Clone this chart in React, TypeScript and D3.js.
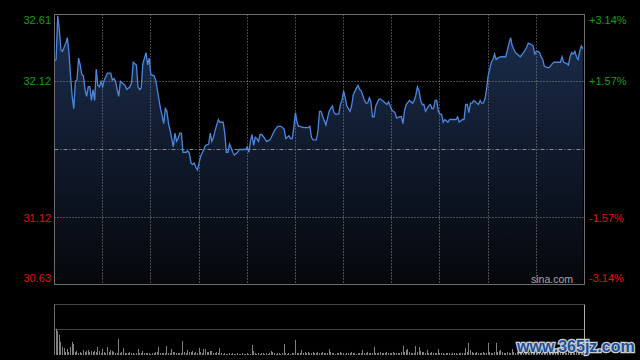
import React from 'react';
import * as d3 from 'd3';

// intraday minutes since open (330 min session) and last price
const minutes = [0,1,2,3,4,5,7,8,9,10,11,12,13,14,15,16,17,18,19,20,21,22,23,24,25,26,27,28,29,30,31,33,35,36,37,38,39,40,41,42,44,45,47,48,49,51,52,53,54,55,56,57,58,59,60,62,63,64,66,67,68,69,70,71,72,73,74,75,76,77,78,79,80,82,83,84,85,86,87,88,89,90,91,93,94,96,97,98,99,100,102,103,105,106,107,108,109,111,112,114,115,117,119,120,121,122,123,124,125,126,127,128,129,131,132,134,135,137,139,141,143,144,146,147,148,149,150,151,152,153,155,156,158,159,160,161,163,164,165,166,167,169,170,171,173,174,175,177,178,179,180,181,182,184,185,186,188,189,190,191,193,194,195,196,197,198,199,200,202,203,205,207,208,209,210,212,213,215,216,217,218,219,221,223,224,225,226,227,228,229,230,231,233,234,235,236,237,238,239,240,241,242,243,245,246,248,250,251,252,254,255,256,257,258,259,260,261,263,264,265,266,267,268,269,270,271,272,273,274,275,276,278,281,282,283,284,285,287,288,290,292,293,294,295,297,298,299,300,301,302,303,304,305,307,308,310,311,313,315,316,317,319,320,321,322,323,324,325,326,327,328,329];
const prices = [32.27,32.28,32.60,32.50,32.35,32.34,32.40,32.44,32.33,32.16,32.01,31.92,32.12,32.13,32.29,32.24,32.17,32.16,32.06,32.01,32.08,32.08,31.98,32.06,31.98,32.21,32.09,32.08,32.12,32.08,32.13,32.18,32.18,32.13,32.14,32.12,32.06,32.01,32.12,32.11,32.09,32.06,32.08,32.11,32.26,32.24,32.08,32.06,32.07,32.25,32.29,32.33,32.24,32.29,32.17,32.16,32.13,32.06,31.92,31.87,31.81,31.92,31.90,31.81,31.76,31.70,31.64,31.74,31.68,31.70,31.74,31.74,31.60,31.60,31.61,31.59,31.52,31.51,31.52,31.49,31.47,31.52,31.57,31.62,31.65,31.66,31.74,31.68,31.71,31.76,31.84,31.82,31.82,31.74,31.60,31.60,31.66,31.60,31.58,31.60,31.62,31.62,31.62,31.64,31.60,31.68,31.73,31.65,31.71,31.70,31.68,31.73,31.73,31.70,31.68,31.69,31.71,31.76,31.79,31.79,31.77,31.70,31.72,31.70,31.70,31.78,31.89,31.82,31.79,31.79,31.78,31.78,31.78,31.79,31.71,31.69,31.69,31.75,31.90,31.90,31.86,31.80,31.85,31.90,31.94,31.89,31.88,31.88,31.95,31.98,32.05,32.00,31.94,31.90,31.94,32.02,32.07,32.09,32.06,32.05,31.98,31.96,31.96,32.00,31.97,31.86,31.86,31.94,31.99,31.99,31.97,31.95,31.97,31.94,31.91,31.89,31.85,31.86,31.86,31.81,31.91,31.95,31.98,31.96,31.98,32.02,32.08,32.05,31.98,31.95,31.95,31.90,31.94,31.95,31.92,31.92,31.98,31.98,31.90,31.88,31.88,31.82,31.84,31.82,31.84,31.84,31.84,31.86,31.82,31.84,31.84,31.95,31.95,31.89,31.96,31.96,31.98,31.96,31.95,31.98,31.96,31.96,31.99,32.06,32.16,32.21,32.26,32.28,32.32,32.28,32.29,32.30,32.30,32.35,32.40,32.44,32.38,32.33,32.32,32.30,32.33,32.35,32.37,32.40,32.39,32.38,32.32,32.34,32.34,32.33,32.30,32.28,32.23,32.22,32.22,32.25,32.26,32.26,32.26,32.30,32.26,32.25,32.24,32.30,32.33,32.32,32.34,32.30,32.28,32.34,32.38,32.36];

// volume per minute (relative units)
const volumes = [
  22,26,24,20,13,8,7,3,6,3,8,13,11,3,4,2,3,2,5,3,4,5,3,4,3,4,3,8,4,2,
  6,3,2,8,3,5,4,3,2,2,16,2,3,7,2,2,2,3,2,2,1,2,6,2,2,4,2,2,2,2,
  1,2,2,3,3,8,2,2,2,2,9,2,2,6,3,3,2,2,2,2,14,3,2,5,3,3,4,2,3,2,
  7,3,2,6,6,3,3,4,4,2,2,3,2,7,2,1,2,1,1,2,1,2,1,1,2,1,1,2,1,1,
  2,1,1,10,4,2,1,2,1,2,2,1,2,1,2,4,3,2,1,2,2,1,2,11,2,1,2,1,2,2,
  15,2,2,2,5,2,3,2,3,2,2,3,2,2,3,2,2,3,2,2,2,6,3,2,2,1,2,2,3,2,
  2,1,2,2,2,3,2,2,1,2,2,2,5,2,2,3,2,2,2,8,2,2,2,3,2,2,2,3,2,2,
  2,3,2,2,2,2,3,9,3,5,6,3,2,2,2,9,3,8,4,3,3,2,5,2,2,3,2,2,2,6,
  2,2,2,1,2,2,2,1,2,2,2,1,2,2,2,2,7,3,12,5,3,2,2,3,2,2,2,3,2,2,
  12,3,2,2,3,12,3,4,5,3,2,2,3,2,2,6,3,2,3,2,2,3,2,2,3,2,3,2,2,3,
  2,3,2,2,3,2,3,2,2,3,6,3,2,3,5,3,2,3,2,2,3,2,2,3,2,3,2,2,3,2,
];

const prevClose = 31.62;
const leftLabels = ['32.61', '32.12', '31.12', '30.63'];
const rightLabels = ['+3.14%', '+1.57%', '-1.57%', '-3.14%'];
const labelPrices = [32.61, 32.12, 31.12, 30.63];
const timeTicks = [30, 60, 90, 120, 150, 180, 210, 240, 270, 300];

const App = () => {
  const width = 640;
  const height = 360;
  const left = 54.5;
  const right = 584.5;
  const top = 14.5;
  const bottom = 284.5;
  const volTop = 304.5;
  const volBottom = 355;

  const x = d3.scaleLinear([0, 330], [left, right]);
  const y = d3.scaleLinear([30.63, 32.61], [bottom, top]);
  const yv = d3.scaleLinear([0, 50], [volBottom, volTop]);

  const data = minutes.map((m, i) => ({ m, p: prices[i] }));

  const line = d3.line<any>().x(d => x(d.m)).y(d => y(d.p));
  const area = d3.area<any>().x(d => x(d.m)).y0(bottom).y1(d => y(d.p));

  const snap = (v: number) => Math.floor(v) + 0.5;
  const font = 'Arial, "Liberation Sans", sans-serif';

  return (
    <svg width={width} height={height} style={{ position: 'absolute', left: 0, top: 0, background: '#000' }}>
      <defs>
        <linearGradient id="fillGrad" gradientUnits="userSpaceOnUse" x1="0" y1={top} x2="0" y2={bottom}>
          <stop offset="0" stopColor="#1c2e4f" />
          <stop offset="1" stopColor="#05070b" />
        </linearGradient>
      </defs>
      <rect width={width} height={height} fill="#000" />

      <path d={area(data) as string} fill="url(#fillGrad)" />

      {/* grid */}
      {timeTicks.map(t => (
        <line key={t} x1={snap(x(t))} x2={snap(x(t))} y1={top} y2={bottom}
          stroke="#8a8a8a" strokeDasharray="1,2" />
      ))}
      {[32.12, 31.12].map(v => (
        <line key={v} x1={left} x2={right} y1={snap(y(v))} y2={snap(y(v))}
          stroke="#8a8a8a" strokeDasharray="1,2" />
      ))}
      <line x1={left} x2={right} y1={snap(y(prevClose))} y2={snap(y(prevClose))}
        stroke="#8a8a8a" strokeDasharray="4,2,1,2" />

      <path d={line(data) as string} fill="none" stroke="#4a88e0" strokeWidth={1.3} />

      <rect x={left} y={top} width={right - left} height={bottom - top} fill="none" stroke="#6e6e6e" />

      {leftLabels.map((l, i) => {
        const yy = i === 0 ? y(labelPrices[i]) + 6 : i === 3 ? y(labelPrices[i]) - 6 : y(labelPrices[i]);
        return (
          <text key={l} x={51} y={yy} dy="0.35em" textAnchor="end" fontFamily={font} fontSize={11}
            fill={i < 2 ? '#14a014' : '#e01010'}>{l}</text>
        );
      })}
      {rightLabels.map((l, i) => {
        const yy = i === 0 ? y(labelPrices[i]) + 6 : i === 3 ? y(labelPrices[i]) - 6 : y(labelPrices[i]);
        return (
          <text key={l} x={589} y={yy} dy="0.35em" textAnchor="start" fontFamily={font} fontSize={11}
            fill={i < 2 ? '#14a014' : '#e01010'}>{l}</text>
        );
      })}

      <text x={573} y={279} dy="0.35em" textAnchor="end" fontFamily={font} fontSize={10.5} fill="#a8a8a8">sina.com</text>

      {/* volume panel */}
      <line x1={left} x2={right} y1={volTop} y2={volTop} stroke="#8a8a8a" strokeDasharray="1,1" />
      <line x1={left} x2={right} y1={snap(yv(25))} y2={snap(yv(25))} stroke="#8a8a8a" strokeDasharray="1,1" />
      {volumes.map((v, i) => (
        <line key={i} x1={snap(x(i))} x2={snap(x(i))} y1={volBottom} y2={yv(v)} stroke="#808080" strokeWidth={1} />
      ))}
      <line x1={left} x2={left} y1={volTop} y2={volBottom} stroke="#6e6e6e" />
      <line x1={right} x2={right} y1={volTop} y2={volBottom} stroke="#b0b0b0" />

      <text x={517} y={352} fontFamily={font} fontWeight="bold" fontSize={16}
        fill="#1d4f9c" stroke="#cfcfcf" strokeWidth={2.5} style={{ paintOrder: 'stroke' }}>www.365jz.com</text>
    </svg>
  );
};

export default App;
